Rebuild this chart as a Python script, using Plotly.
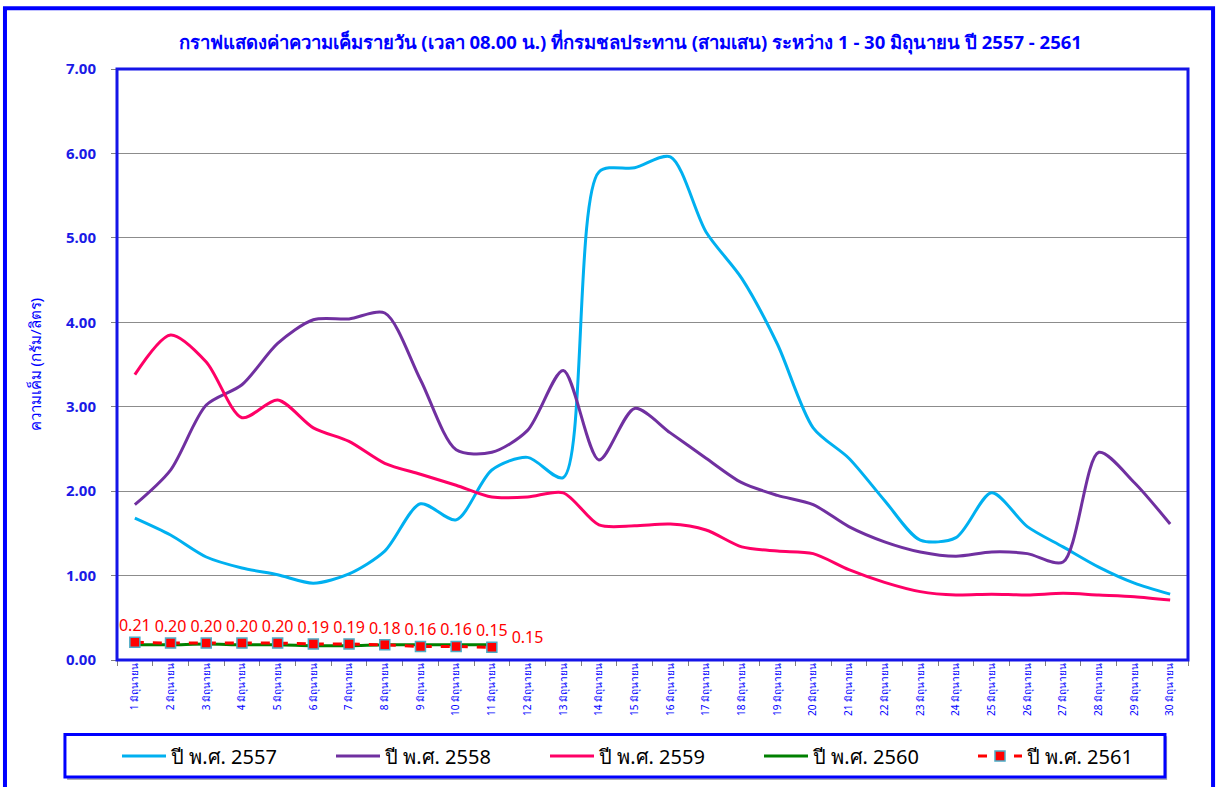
import plotly.graph_objects as go

days = [f"{d} มิถุนายน" for d in range(1, 31)]

y2557 = [1.68, 1.48, 1.22, 1.09, 1.01, 0.91, 1.02, 1.29, 1.85, 1.66,
         2.25, 2.40, 2.16, 5.78, 5.83, 5.96, 5.07, 4.52, 3.74, 2.75,
         2.39, 1.89, 1.42, 1.45, 1.98, 1.58, 1.34, 1.10, 0.91, 0.78]
y2558 = [1.84, 2.25, 3.02, 3.26, 3.75, 4.03, 4.04, 4.11, 3.32, 2.49,
         2.46, 2.72, 3.43, 2.37, 2.98, 2.69, 2.39, 2.10, 1.95, 1.84,
         1.58, 1.40, 1.28, 1.23, 1.28, 1.26, 1.16, 2.46, 2.10, 1.61]
y2559 = [3.38, 3.85, 3.53, 2.87, 3.08, 2.75, 2.59, 2.33, 2.20, 2.07,
         1.93, 1.93, 1.98, 1.60, 1.59, 1.61, 1.54, 1.34, 1.29, 1.26,
         1.07, 0.92, 0.81, 0.77, 0.78, 0.77, 0.79, 0.77, 0.75, 0.71]
y2560 = [0.18, 0.18, 0.19, 0.18, 0.18, 0.17, 0.17, 0.18, 0.18, 0.18, 0.18]
y2561 = [0.21, 0.20, 0.20, 0.20, 0.20, 0.19, 0.19, 0.18, 0.16, 0.16, 0.15]
extra_label_day = "12 มิถุนายน"
extra_label_value = 0.15

series_names = ["ปี พ.ศ. 2557", "ปี พ.ศ. 2558", "ปี พ.ศ. 2559", "ปี พ.ศ. 2560", "ปี พ.ศ. 2561"]
colors = ["#00B0F0", "#7030A0", "#FF0066", "#008000", "#FF0000"]

title_text = "กราฟแสดงค่าความเค็มรายวัน (เวลา 08.00 น.) ที่กรมชลประทาน (สามเสน) ระหว่าง 1 - 30 มิถุนายน ปี 2557 - 2561"
ytitle = "ความเค็ม (กรัม/ลิตร)"

FONT = "Tahoma, 'Noto Sans', 'DejaVu Sans', sans-serif"

fig = go.Figure()
for name, vals, col in zip(series_names[:4], [y2557, y2558, y2559, y2560], colors[:4]):
    fig.add_trace(go.Scatter(
        x=days[:len(vals)], y=vals, name=name, mode="lines",
        line=dict(color=col, width=3, shape="spline", smoothing=0.8),
    ))

fig.add_trace(go.Scatter(
    x=days[:len(y2561)], y=y2561, name=series_names[4], mode="lines+markers+text",
    line=dict(color=colors[4], width=3, dash="dash"),
    marker=dict(symbol="square", size=10, color="#FF0000", line=dict(color="#4BACC6", width=1.5)),
    text=[f"{v:.2f}" for v in y2561], textposition="top center",
    textfont=dict(color="#FF0000", size=16, family=FONT),
))
fig.add_trace(go.Scatter(
    x=[extra_label_day], y=[extra_label_value], mode="text", showlegend=False,
    text=[f"{extra_label_value:.2f}"], textposition="top center",
    textfont=dict(color="#FF0000", size=16, family=FONT),
))

shapes = [
    # outer frame
    dict(type="rect", xref="paper", yref="paper", x0=-0.1046, x1=1.0234, y0=-0.235, y1=1.103,
         line=dict(color="#0000FF", width=4), layer="below"),
    # plot area border
    dict(type="rect", xref="paper", yref="paper", x0=0, x1=1, y0=0, y1=1,
         line=dict(color="#1515E8", width=3), layer="above"),
    # legend box shadow
    dict(type="rect", xref="paper", yref="paper", x0=-0.0466, x1=0.9805, y0=-0.203, y1=-0.129,
         line=dict(width=0), fillcolor="#B0B0B0", layer="below"),
    # legend box
    dict(type="rect", xref="paper", yref="paper", x0=-0.0486, x1=0.9785, y0=-0.198, y1=-0.126,
         line=dict(color="#0000FF", width=3), fillcolor="white", layer="below"),
]

fig.update_layout(
    width=1219, height=787,
    margin=dict(l=117, r=31, t=69, b=127, autoexpand=False),
    paper_bgcolor="white", plot_bgcolor="white",
    font=dict(family=FONT, color="#0000FF"),
    title=dict(text=f"<b>{title_text}</b>", x=0.517, xanchor="center", y=1 - 43 / 787, yanchor="middle",
               font=dict(size=18.5, color="#0000FF", family=FONT)),
    showlegend=True,
    legend=dict(orientation="h", xref="container", x=117 / 1219, xanchor="left",
                yref="container", y=1 - 756 / 787, yanchor="middle",
                font=dict(size=20, color="#000000", family=FONT), itemwidth=44,
                entrywidth=155, entrywidthmode="pixels", bgcolor="rgba(0,0,0,0)", borderwidth=0),
    shapes=shapes,
    annotations=[dict(text=ytitle, xref="paper", yref="paper", x=-0.0766, xanchor="center",
                      y=0.5, yanchor="middle", textangle=-90,
                      showarrow=False, font=dict(size=15, color="#0000FF", family=FONT))],
)

fig.update_xaxes(
    type="category", categoryorder="array", categoryarray=days, range=[-0.5, 29.5],
    tickangle=-90, tickfont=dict(size=10, color="#0000FF", family=FONT),
    ticks="outside", tickson="boundaries", ticklen=5, tickcolor="#808080",
    showgrid=False, showline=False, zeroline=False,
)
fig.update_yaxes(
    range=[0, 7], dtick=1, tickformat=".2f",
    tickfont=dict(size=15, color="#1A1AE6", family=FONT, weight="bold"),
    ticks="outside", ticklen=5, tickcolor="#808080", ticklabelstandoff=12,
    showgrid=True, gridcolor="#8C8C8C", gridwidth=1, zeroline=False, showline=False,
)

fig.write_html("out.html", post_script="document.body.style.margin='0px';",
               config={"displayModeBar": False})
